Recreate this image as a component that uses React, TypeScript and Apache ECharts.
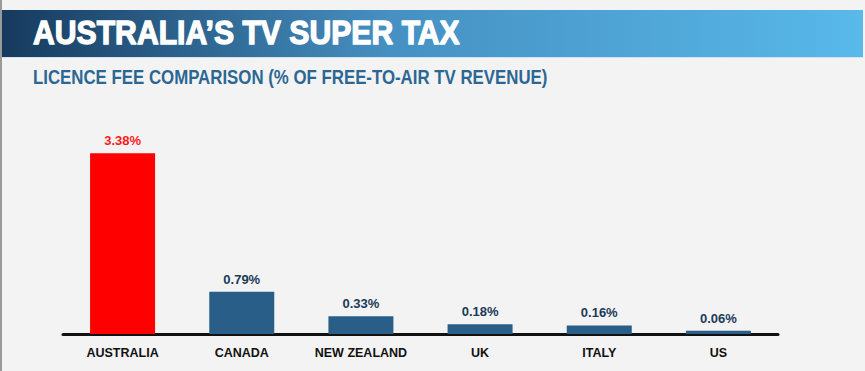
import React, { useEffect, useRef } from "react";
import * as echarts from "echarts";

const categories = ["AUSTRALIA", "CANADA", "NEW ZEALAND", "UK", "ITALY", "US"];
const values = [3.38, 0.79, 0.33, 0.18, 0.16, 0.06];
const title = "AUSTRALIA\u2019S TV SUPER TAX";
const subtitle = "LICENCE FEE COMPARISON (% OF FREE-TO-AIR TV REVENUE)";

function measure(text: string, font: string): number {
  const c = document.createElement("canvas").getContext("2d");
  if (!c) return 1;
  c.font = font;
  return c.measureText(text).width || 1;
}

export default function App() {
  const ref = useRef<HTMLDivElement>(null);
  useEffect(() => {
    if (!ref.current) return;
    const chart = echarts.init(ref.current, null, { renderer: "svg" });
    const titleFont = "bold 33px 'Liberation Sans'";
    const subFont = "bold 20px 'Liberation Sans Narrow', 'Liberation Sans'";
    const titleScale = 427 / measure(title, titleFont);
    const subScale = 515 / measure(subtitle, subFont);
    chart.setOption({
      animation: false,
      backgroundColor: "#f3f3f3",
      grid: { left: 63, right: 87, top: 120, bottom: 37 },
      xAxis: {
        type: "category",
        data: categories,
        axisLine: { lineStyle: { color: "#111", width: 3 } },
        axisTick: { show: false },
        axisLabel: {
          color: "#111",
          fontWeight: "bold",
          fontSize: 12.5,
          fontFamily: "'Liberation Sans', sans-serif",
          margin: 12,
          interval: 0,
        },
      },
      yAxis: { type: "value", min: 0, max: 4, show: false },
      series: [
        {
          type: "bar",
          barWidth: 65,
          data: values.map((v, i) => ({
            value: v,
            itemStyle: { color: i === 0 ? "#ff0000" : "#285e88" },
            label: { color: i === 0 ? "#ff1a1a" : "#1b3a5a" },
          })),
          label: {
            show: true,
            position: "top",
            distance: 6,
            fontWeight: "bold",
            fontSize: 13,
            fontFamily: "'Liberation Sans', sans-serif",
            formatter: (p: any) => p.value.toFixed(2) + "%",
          },
        },
      ],
      graphic: [
        { type: "rect", shape: { x: 0, y: 0, width: 2, height: 371 }, style: { fill: "#9a9a9a" } },
        {
          type: "rect",
          shape: { x: 2, y: 10, width: 861, height: 48 },
          style: {
            fill: new echarts.graphic.LinearGradient(0, 0, 1, 0, [
              { offset: 0, color: "#163a5e" },
              { offset: 0.45, color: "#4690c2" },
              { offset: 1, color: "#58b9ea" },
            ]),
          },
        },
        { type: "rect", shape: { x: 2, y: 57, width: 861, height: 1 }, style: { fill: "#cfe3f0" } },
        {
          type: "text",
          x: 33,
          y: 33,
          scaleX: titleScale,
          style: {
            text: title,
            fill: "#ffffff",
            stroke: "#ffffff",
            lineWidth: 1.3,
            font: titleFont,
            verticalAlign: "middle",
          },
        },
        {
          type: "text",
          x: 33,
          y: 77,
          scaleX: subScale,
          style: {
            text: subtitle,
            fill: "#2c6794",
            font: subFont,
            verticalAlign: "middle",
          },
        },
      ],
    });
    return () => chart.dispose();
  }, []);
  return (
    <div
      ref={ref}
      style={{ position: "fixed", left: 0, top: 0, width: 865, height: 371 }}
    />
  );
}
